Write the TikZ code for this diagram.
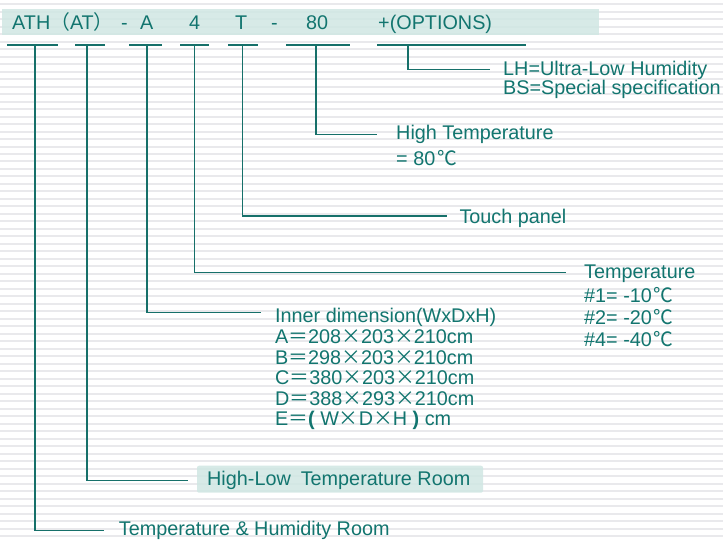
\documentclass[tikz,border=0pt]{standalone}
\usepackage{fontspec}
\setmainfont{Liberation Sans}
\newfontfamily\cjk{Noto Sans CJK SC}
\definecolor{tealt}{RGB}{18,117,111}
\definecolor{tealline}{RGB}{22,112,106}
\definecolor{stripec}{RGB}{233,233,236}
\definecolor{bandc}{RGB}{208,231,227}
\newcommand\degc{\kern2pt{\cjk ℃}}
\newcommand\tms{{\cjk ×}}
\newcommand\eqs{{\cjk ＝}}
\begin{document}
\begin{tikzpicture}[x=1pt,y=-1pt,
  lbl/.style={anchor=base west, inner sep=0pt, text=tealt, font=\fontsize{19.8}{20}\selectfont},
  ulbar/.style={draw=tealline, line width=2pt},
  conn/.style={draw=tealline, line width=1.3pt},
  boxst/.style={fill=bandc, opacity=0.85, rounded corners=2pt, inner sep=0pt}]
\useasboundingbox (0,0) rectangle (723,539);
\fill[white] (0,0) rectangle (723,539);
% background stripes
\foreach \k in {0,...,72} \fill[stripec] (0,{4.2+7.49*\k-1}) rectangle (723,{4.2+7.49*\k+1});
% top band
\fill[bandc, opacity=0.85] (2,9) rectangle (599,35);
% code row
\node[lbl] (ath) at (12,29.3) {ATH};
\node[lbl] (at) at (50,29.3) {{\cjk （}AT{\cjk ）}};
\node[lbl] (h1) at (121,29.3) {-};
\node[lbl] (ca) at (140,29.3) {A};
\node[lbl] (c4) at (189,29.3) {4};
\node[lbl] (ct) at (235,29.3) {T};
\node[lbl] (h2) at (271,29.3) {-};
\node[lbl] (c80) at (306,29.3) {80};
\node[lbl] (opt) at (378,29.3) {+(OPTIONS)};
% underline bars
\draw[ulbar] (7,45) -- (58,45);
\draw[ulbar] (75,45) -- (105,45);
\draw[ulbar] (129,45) -- (162,45);
\draw[ulbar] (180,45) -- (209,45);
\draw[ulbar] (228,45) -- (258,45);
\draw[ulbar] (286,45) -- (350,45);
\draw[ulbar] (377,45) -- (526,45);
% stem points
\coordinate (s1) at (35,45);
\coordinate (s2) at (87,45);
\coordinate (s3) at (147,45);
\coordinate (s4) at (194.3,45);
\coordinate (s5) at (242.7,45);
\coordinate (s6) at (316,45);
\coordinate (s7) at (408,45);
% connector ends
\coordinate (e1) at (104,530.7);
\coordinate (e2) at (188,480.7);
\coordinate (e3) at (260.5,312.3);
\coordinate (e4) at (566,272.7);
\coordinate (e5) at (447,216);
\coordinate (e6) at (377,134.7);
\coordinate (e7) at (490,69.3);
% labels
\node[lbl] (lh) at (503,75) {LH=Ultra-Low Humidity};
\node[lbl] (bs) at (503,94) {BS=Special specification};
\node[lbl] (ht) at (396,139.3) {High Temperature};
\node[lbl] (ht2) at (396,165) {= 80\degc};
\node[lbl] (tp) at (459.3,223.3) {Touch panel};
\node[lbl] (tmp) at (584,278.3) {Temperature};
\node[lbl] (t1) at (584,302.3) {\#1= -10\degc};
\node[lbl] (t2) at (584,324) {\#2= -20\degc};
\node[lbl] (t4) at (584,346) {\#4= -40\degc};
\node[lbl] (idim) at (275,322.3) {Inner dimension(WxDxH)};
\node[lbl] (da) at (275,343.3) {A\eqs 208\tms 203\tms 210cm};
\node[lbl] (db) at (275,364) {B\eqs 298\tms 203\tms 210cm};
\node[lbl] (dc) at (275,384.5) {C\eqs 380\tms 203\tms 210cm};
\node[lbl] (dd) at (275,405) {D\eqs 388\tms 293\tms 210cm};
\node[lbl] (de) at (275,425.7) {E\eqs\textbf{(} W\tms D\tms H \textbf{)} cm};
\node[boxst, minimum width=286pt, minimum height=27pt] (hlbox) at (340,479.2) {};
\node[lbl] (hl) at (207,485.7) {High-Low\hspace{10pt}Temperature Room};
\node[lbl] (thr) at (118.7,535.7) {Temperature \& Humidity Room};
% connectors
\draw[conn] (s1) |- (e1);
\draw[conn] (s2) |- (e2);
\draw[conn] (s3) |- (e3);
\draw[conn] (s4) |- (e4);
\draw[conn] (s5) |- (e5);
\draw[conn] (s6) |- (e6);
\draw[conn] (s7) |- (e7);
\end{tikzpicture}
\end{document}
